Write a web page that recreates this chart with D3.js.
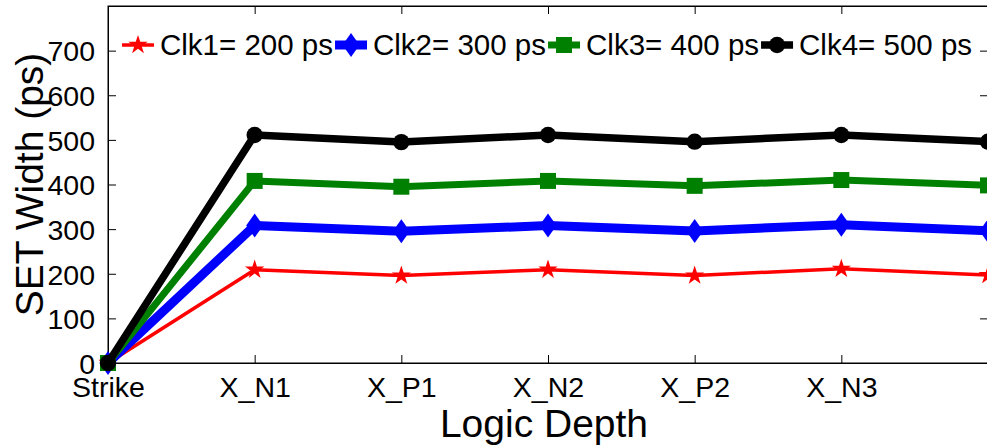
<!DOCTYPE html>
<html>
<head>
<meta charset="utf-8">
<script src="https://cdn.jsdelivr.net/npm/d3@7"></script>
<style>
  body { margin: 0; background: #fff; }
  text { font-family: "Liberation Sans", Arial, sans-serif; fill: #000; }
</style>
</head>
<body>
<div id="chart"></div>
<script>
// Data
var categories = ["Strike", "X_N1", "X_P1", "X_N2", "X_P2", "X_N3", "X_P3"];
var tickLabels = ["Strike", "X_N1", "X_P1", "X_N2", "X_P2", "X_N3", ""];
var yTicks = [0, 100, 200, 300, 400, 500, 600, 700];

var clk1 = [0, 209, 196, 209, 196, 211, 197];
var clk2 = [0, 308, 295, 308, 296, 310, 296];
var clk3 = [0, 408, 395, 408, 397, 410, 398];
var clk4 = [0, 511, 495, 511, 496, 511, 496];

var seriesNames = ["Clk1= 200 ps", "Clk2= 300 ps", "Clk3= 400 ps", "Clk4= 500 ps"];

var svgWidth = 987;
var svgHeight = 448;

var margin = { top: 6, right: -1, bottom: 85, left: 108 };
var width = svgWidth - margin.left - margin.right;
var height = svgHeight - margin.top - margin.bottom;

var svg = d3.select("#chart")
  .append("svg")
  .attr("width", svgWidth)
  .attr("height", svgHeight);

var chartGroup = svg.append("g")
  .attr("transform", `translate(${margin.left}, ${margin.top})`);

var xScale = d3.scalePoint()
  .domain(categories)
  .range([0, width]);

var yScale = d3.scaleLinear()
  .domain([0, 800])
  .range([height, 0]);

// frame
chartGroup.append("rect")
  .attr("x", 0).attr("y", 0)
  .attr("width", width).attr("height", height)
  .attr("fill", "none")
  .attr("stroke", "#000")
  .attr("stroke-width", 1);

// bottom axis (ticks point inward)
var bottomAxis = d3.axisBottom(xScale)
  .tickSizeInner(-8).tickSizeOuter(0).tickPadding(14)
  .tickFormat((d, i) => tickLabels[i]);
var xAxis = chartGroup.append("g")
  .attr("transform", `translate(0, ${height})`)
  .call(bottomAxis);
xAxis.selectAll("text").attr("font-size", "28.5px");

// top ticks
chartGroup.append("g")
  .call(d3.axisTop(xScale).tickSizeInner(-8).tickSizeOuter(0).tickFormat(""));

// left axis
var leftAxis = d3.axisLeft(yScale)
  .tickValues(yTicks).tickSizeInner(-8).tickSizeOuter(0).tickPadding(13);
var yAxis = chartGroup.append("g").call(leftAxis);
yAxis.selectAll("text").attr("font-size", "28.5px").attr("dy", "0.36em");

// right ticks
chartGroup.append("g")
  .attr("transform", `translate(${width}, 0)`)
  .call(d3.axisRight(yScale).tickValues(yTicks).tickSizeInner(-8).tickSizeOuter(0).tickFormat(""));

chartGroup.selectAll(".domain").attr("stroke", "#000");
chartGroup.selectAll(".tick line").attr("stroke", "#000");

// axis titles
chartGroup.append("text")
  .attr("x", width / 2 - 4)
  .attr("y", height + 74)
  .attr("text-anchor", "middle")
  .attr("font-size", "39px")
  .text("Logic Depth");

chartGroup.append("text")
  .attr("transform", `translate(${43 - margin.left}, ${height / 2}) rotate(-90)`)
  .attr("text-anchor", "middle")
  .attr("font-size", "39px")
  .text("SET Width (ps)");

// marker shapes
function markerPath(kind) {
  if (kind === "star") {
    return d3.symbol().type(d3.symbolStar).size(115)();
  } else if (kind === "diamond") {
    return "M0,-12L8.5,0L0,12L-8.5,0Z";
  } else if (kind === "square") {
    return "M-8,-8H8V8H-8Z";
  }
  return d3.symbol().type(d3.symbolCircle).size(210)();
}

var series = [
  { name: seriesNames[0], values: clk1, color: "#ff0000", width: 3.5, marker: "star" },
  { name: seriesNames[1], values: clk2, color: "#0000ff", width: 9, marker: "diamond" },
  { name: seriesNames[2], values: clk3, color: "#008000", width: 7, marker: "square" },
  { name: seriesNames[3], values: clk4, color: "#000000", width: 7.5, marker: "circle" }
];

var line = d3.line()
  .x((d, i) => xScale(categories[i]))
  .y(d => yScale(d));

series.forEach(function(s) {
  var g = chartGroup.append("g");
  g.append("path")
    .datum(s.values)
    .attr("d", line)
    .attr("fill", "none")
    .attr("stroke", s.color)
    .attr("stroke-width", s.width)
    .attr("stroke-linejoin", "round");
  g.selectAll("path.marker")
    .data(s.values)
    .enter()
    .append("path")
    .classed("marker", true)
    .attr("transform", (d, i) => `translate(${xScale(categories[i])}, ${yScale(d)})`)
    .attr("d", markerPath(s.marker))
    .attr("fill", s.color);
});

// legend
var legendX = 122;
var legendY = 45;
series.forEach(function(s) {
  var lg = svg.append("g");
  lg.append("line")
    .attr("x1", legendX).attr("x2", legendX + 32)
    .attr("y1", legendY).attr("y2", legendY)
    .attr("stroke", s.color)
    .attr("stroke-width", s.width);
  lg.append("path")
    .attr("transform", `translate(${legendX + 16}, ${legendY})`)
    .attr("d", markerPath(s.marker))
    .attr("fill", s.color);
  var t = lg.append("text")
    .attr("x", legendX + 38)
    .attr("y", legendY + 10)
    .attr("font-size", "29.5px")
    .text(s.name);
  legendX = legendX + 38 + t.node().getComputedTextLength() + 2;
});
</script>
</body>
</html>
